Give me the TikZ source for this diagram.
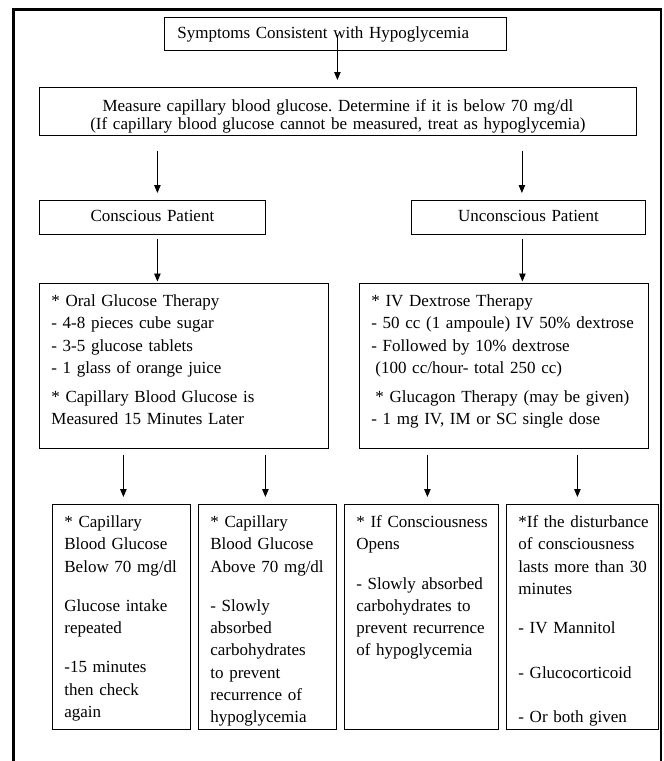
\documentclass[tikz,border=0pt]{standalone}
\usepackage{fontspec}
\setmainfont{Liberation Serif}
\usetikzlibrary{arrows.meta}

\newcommand{\chartfont}{\fontsize{17pt}{22.3pt}\selectfont
  \hyphenpenalty=10000\exhyphenpenalty=10000\frenchspacing}

\tikzset{
  %% Text box, placed by its top left corner
  cbox/.style={
    rectangle, draw=black, line width=0.8pt,
    anchor=north west, align=left, font=\chartfont,
    inner xsep=12pt, inner ysep=0pt
  },
  %% Arrow
  arr/.style={-{Triangle[length=8pt,width=6.5pt]},
              draw=black, line width=0.8pt},
  %% Page frame
  outerframe/.style={draw=black, line width=2.6pt},
}

\begin{document}
\begin{tikzpicture}[x=1pt, y=-1pt]
  \useasboundingbox (0,0) rectangle (664,761);

  %% Frame (runs off the bottom of the page)
  \draw[outerframe] (13.5,9.5) rectangle (661,790);

  %% Start
  \node[cbox, inner xsep=13pt, text width=316pt,
        text height=21pt, text depth=12pt] (symp) at (164,17)
       {Symptoms Consistent with Hypoglycemia};
  \node[cbox, align=center, text width=573pt,
        text height=24pt, text depth=24pt] (meas) at (39,87)
       {Measure capillary blood glucose. Determine if it is below 70 mg/dl\\[-4pt]
        (If capillary blood glucose cannot be measured, treat as hypoglycemia)};

  %% Patient state
  \node[cbox, align=center, text width=202pt,
        text height=21.5pt, text depth=12.5pt] (consc) at (39,200)
       {Conscious Patient};
  \node[cbox, align=center, text width=210pt,
        text height=21.5pt, text depth=12.5pt] (uncon) at (411,200)
       {Unconscious Patient};

  %% Treatment
  \node[cbox, text width=265pt, text height=23pt, text depth=142pt]
       (oral) at (39,283)
       {* Oral Glucose Therapy\\
        - 4-8 pieces cube sugar\\
        - 3-5 glucose tablets\\
        - 1 glass of orange juice\\[7pt]
        * Capillary Blood Glucose is\\
        Measured 15 Minutes Later};
  \node[cbox, text width=265pt, text height=23pt, text depth=142pt]
       (ivd) at (359,283)
       {* IV Dextrose Therapy\\
        - 50 cc (1 ampoule) IV 50\% dextrose\\
        - Followed by 10\% dextrose\\
        \hspace*{4pt}(100 cc/hour- total 250 cc)\\[7pt]
        \hspace*{4pt}* Glucagon Therapy (may be given)\\
        - 1 mg IV, IM or SC single dose};

  %% Follow-up
  \node[cbox, text width=114pt, text height=23pt, text depth=202pt]
       (low) at (52,504)
       {* Capillary\\ Blood Glucose\\ Below~70~mg/dl\\[17pt]
        Glucose intake\\ repeated\\[17pt]
        -15 minutes\\ then check\\ again};
  \node[cbox, text width=114pt, text height=23pt, text depth=202pt]
       (high) at (198,504)
       {* Capillary\\ Blood Glucose\\ Above~70~mg/dl\\[17pt]
        - Slowly\\ absorbed\\ carbohydrates\\ to prevent\\
        recurrence of\\ hypoglycemia};
  \node[cbox, text width=130pt, text height=23pt, text depth=202pt]
       (wake) at (344,504)
       {*~If~Consciousness\\ Opens\\[17pt]
        - Slowly absorbed\\ carbohydrates to\\
        prevent~recurrence\\ of hypoglycemia};
  \node[cbox, text width=128pt, text height=23pt, text depth=202pt]
       (longer) at (506,504)
       {*If~the~disturbance\\ of consciousness\\
        lasts~more~than~30\\ minutes\\[17pt]
        - IV Mannitol\\[22.3pt]
        - Glucocorticoid\\[22.3pt]
        - Or both given};

  %% Arrows
  \draw[arr, shorten >=7pt]
       ([xshift=2pt,yshift=16pt]symp.south) -- ([xshift=-0.5pt]meas.north);
  \draw[arr, shorten <=15pt, shorten >=7pt]
       ([xshift=-180.5pt]meas.south) -- ([xshift=5pt]consc.north);
  \draw[arr, shorten <=15pt, shorten >=7pt]
       ([xshift=184pt]meas.south) -- ([xshift=-6.5pt]uncon.north);
  \draw[arr, shorten <=4pt, shorten >=1.5pt]
       ([xshift=5pt]consc.south) -- ([xshift=-26.5pt]oral.north);
  \draw[arr, shorten <=4pt, shorten >=1.5pt]
       ([xshift=-6pt]uncon.south) -- ([xshift=18.5pt]ivd.north);
  \draw[arr, shorten <=6pt, shorten >=7pt]
       ([xshift=-60.5pt]oral.south) -- ([xshift=2pt]low.north);
  \draw[arr, shorten <=6pt, shorten >=7pt]
       ([xshift=81.5pt]oral.south) -- ([xshift=-2pt]high.north);
  \draw[arr, shorten <=6pt, shorten >=7pt]
       ([xshift=-76.5pt]ivd.south) -- ([xshift=6pt]wake.north);
  \draw[arr, shorten <=6pt, shorten >=7pt]
       ([xshift=73.5pt]ivd.south) -- ([xshift=-5pt]longer.north);
\end{tikzpicture}
\end{document}
